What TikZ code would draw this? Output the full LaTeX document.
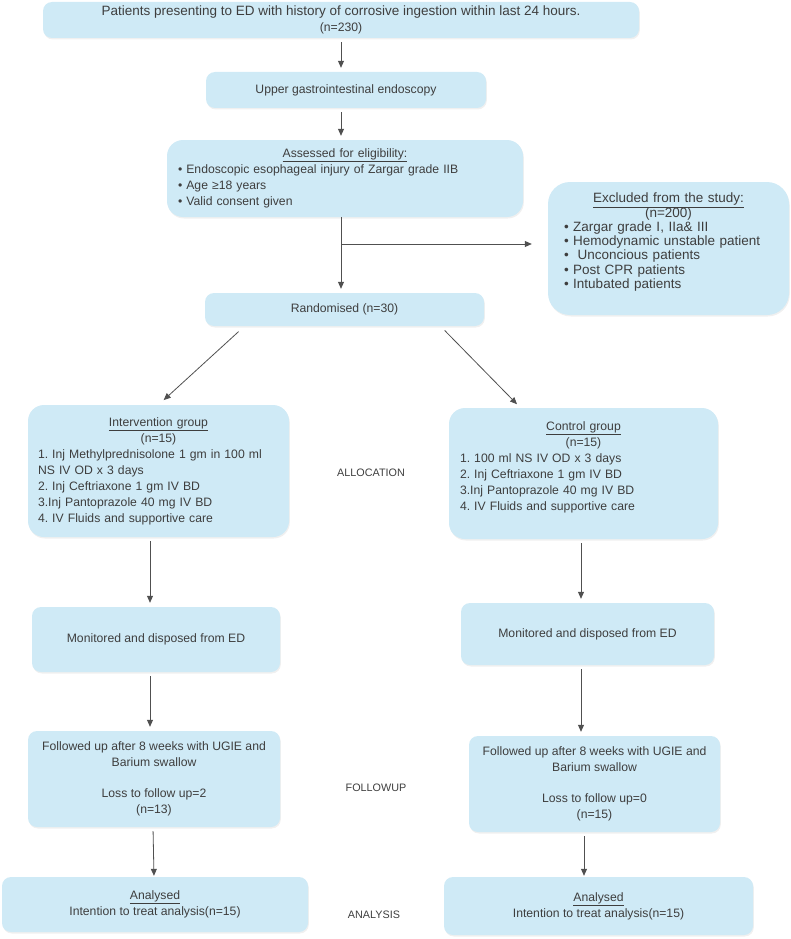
\documentclass[tikz,border=0pt]{standalone}
\usepackage{fontspec}
\setmainfont{Liberation Sans}
\usepackage{tikz}
\usetikzlibrary{arrows.meta,calc,shadows}
\definecolor{boxblue}{RGB}{207,234,246}
\definecolor{txtgray}{RGB}{62,62,62}
\definecolor{arrgray}{RGB}{80,80,80}
\newcommand{\fsz}{\fontsize{12.2}{16}\selectfont}
\newcommand{\bigsz}{\fontsize{13.5}{14.2}\selectfont}
\newcommand{\lsz}{\fontsize{10.8}{12}\selectfont}
\frenchspacing

\begin{document}
\begin{tikzpicture}[x=1pt, y=-1pt,
    box/.style = {fill=boxblue, rounded corners=9pt, font=\fsz, text=txtgray,
        inner sep=0pt, align=center,
        drop shadow={opacity=0.12, shadow xshift=0.8pt, shadow yshift=-1.5pt}},
    listbox/.style = {box, align=left, rounded corners=16pt},
    phase/.style = {font=\lsz, text=txtgray},
    arr/.style = {draw=arrgray, line width=0.8pt, -{Triangle[length=7pt,width=6pt]},
        shorten <=4pt, shorten >=4pt}
]
    \useasboundingbox (0,0) rectangle (790,939);

    %screening
    \node[box, minimum width=596, minimum height=36] (top) at (341,20)
        {\bigsz Patients presenting to ED with history of corrosive ingestion within last 24 hours.\\(n=230)};
    \node[box, minimum width=280, minimum height=36] (gi) at (346,90)
        {Upper gastrointestinal endoscopy};
    \node[listbox, text width=334, inner xsep=11, minimum height=77] (elig) at (345,178.5)
        {{\centering\underline{Assessed for eligibility:}\par}
         \textbullet\ Endoscopic esophageal injury of Zargar grade IIB\\
         \textbullet\ Age ≥18 years\\
         \textbullet\ Valid consent given};
    \node[listbox, text width=209, inner xsep=16, minimum height=133, rounded corners=22pt,
        font=\bigsz] (excl) at (668.5,248.5)
        {{\centering\underline{Excluded from the study:}\\[-1pt](n=200)\par}
         \textbullet\ Zargar grade I, IIa\& III\\
         \textbullet\ Hemodynamic unstable patient\\
         \textbullet\ \ Unconcious patients\\
         \textbullet\ Post CPR patients\\
         \textbullet\ Intubated patients\par\vspace*{13pt}};
    \node[box, minimum width=279, minimum height=33] (rand) at (344.5,309.5)
        {Randomised (n=30)};

    \coordinate (br) at (341,244);
    \draw[arr, shorten <=0pt] (elig.south -| top.south) -- (rand.north -| top.south);
    \draw[arr, shorten <=0pt, shorten >=16pt] (br) -- (br -| excl.west);
    \draw[arr] (top.south) -- (gi.north -| top.south);
    \draw[arr] (gi.south -| top.south) -- (elig.north -| top.south);

    %allocation
    \node[listbox, text width=241, inner xsep=10, minimum height=132] (int) at (158.5,471)
        {{\centering\underline{Intervention group}\\(n=15)\par}
         1. Inj Methylprednisolone 1 gm in 100 ml\\
         NS IV OD x 3 days\\
         2. Inj Ceftriaxone 1 gm IV BD\\
         3.Inj Pantoprazole 40 mg IV BD\\
         4. IV Fluids and supportive care};
    \node[listbox, text width=247, inner xsep=11, minimum height=131] (ctl) at (583.5,473.5)
        {{\centering\underline{Control group}\\(n=15)\par}
         1. 100 ml NS IV OD x 3 days\\
         2. Inj Ceftriaxone 1 gm IV BD\\
         3.Inj Pantoprazole 40 mg IV BD\\
         4. IV Fluids and supportive care\par\vspace*{13pt}};
    \node[phase] (alloc) at (371,473) {ALLOCATION};

    \draw[arr, shorten <=8pt, shorten >=7pt] ([xshift=-100]rand.south) -- (int.north);
    \draw[arr, shorten <=6pt, shorten >=5pt] ([xshift=96]rand.south) -- ([xshift=-63]ctl.north);

    %treatment
    \coordinate (colL) at (150,0);
    \coordinate (colR) at (581,0);
    \node[box, minimum width=248, minimum height=65] (monL) at (156,639.5)
        {Monitored and disposed from ED};
    \node[box, minimum width=253, minimum height=62] (monR) at (587.5,634)
        {Monitored and disposed from ED};
    \draw[arr] (int.south -| colL) -- (monL.north -| colL);
    \draw[arr] (ctl.south -| colR) -- (monR.north -| colR);

    %followup
    \node[box, minimum width=252, minimum height=96] (fuL) at (154,779)
        {Followed up after 8 weeks with UGIE and\\Barium swallow\\[15pt]Loss to follow up=2\\(n=13)};
    \node[box, minimum width=251, minimum height=96] (fuR) at (594.5,784)
        {Followed up after 8 weeks with UGIE and\\Barium swallow\\[15pt]Loss to follow up=0\\(n=15)};
    \node[phase] (fup) at (376,788) {FOLLOWUP};
    \draw[arr] (monL.south -| colL) -- (fuL.north -| colL);
    \draw[arr] (monR.south -| colR) -- (fuR.north -| colR);

    %analysis
    \node[box, minimum width=306, minimum height=55] (anL) at (155,904.5)
        {\underline{Analysed}\\Intention to treat analysis(n=15)};
    \node[box, minimum width=309, minimum height=58] (anR) at (598.5,906)
        {\underline{Analysed}\\Intention to treat analysis(n=15)};
    \node[phase] (ana) at (374,915) {ANALYSIS};
    \draw[arr, shorten >=1pt] ([xshift=-1]fuL.south) -- (anL.north -| fuL.south);
    \draw[arr, shorten >=1pt] ([xshift=-10.5]fuR.south) -- ([xshift=-14.5]anR.north);
\end{tikzpicture}
\end{document}
